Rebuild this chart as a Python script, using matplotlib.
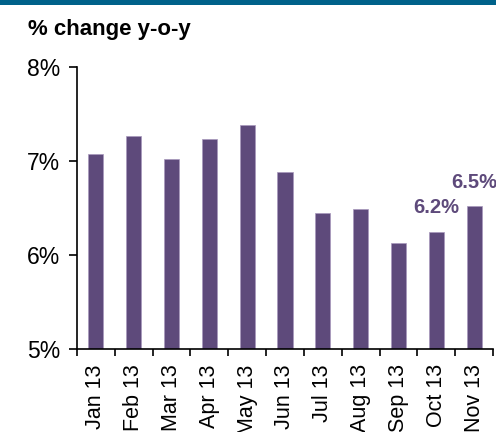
import numpy as np
import matplotlib
matplotlib.use("Agg")
import matplotlib.pyplot as plt
from matplotlib.patches import Rectangle

months = ["Jan 13", "Feb 13", "Mar 13", "Apr 13", "May 13", "Jun 13",
          "Jul 13", "Aug 13", "Sep 13", "Oct 13", "Nov 13"]
values = [7.07, 7.27, 7.02, 7.23, 7.38, 6.88, 6.45, 6.49, 6.13, 6.25, 6.52]
labelled = {9: "6.2%", 10: "6.5%"}

purple = "#5E4A7B"
plt.rcParams['font.family'] = ['Liberation Sans', 'DejaVu Sans']

fig = plt.figure(figsize=(4.96, 4.32), dpi=100)
# blue header strip
fig.patches.append(Rectangle((0, 1 - 5 / 432), 1, 5 / 432, transform=fig.transFigure,
                             facecolor="#00628A", edgecolor="none"))
fig.text(28 / 496, 1 - 30 / 432, "% change y-o-y", fontsize=16, fontweight="bold",
         va="center", ha="left")

ax = fig.add_axes([77 / 496, 1 - 349 / 432, 416 / 496, 282 / 432])
x = np.arange(len(months))
ax.bar(x, values, width=0.4, color=purple, edgecolor="#A898BC", linewidth=0.5)

for i, txt in labelled.items():
    ax.text(x[i], values[i] + 0.15, txt, ha="center", va="bottom", fontsize=14.5,
            fontweight="bold", color=purple)

ax.set_xlim(-0.5, len(months) - 0.5)
ax.set_ylim(5, 8)
ax.set_yticks([5, 6, 7, 8])
ax.set_yticklabels(["5%", "6%", "7%", "8%"], fontsize=16.5)
ax.set_xticks(x)
ax.set_xticklabels(months, rotation=90, fontsize=15.5, va="top")
ax.set_xticks(np.arange(-0.5, len(months)), minor=True)
ax.tick_params(axis="x", which="major", length=0, pad=11)
ax.tick_params(axis="x", which="minor", length=5, width=1.2, direction="out")
ax.tick_params(axis="y", length=6, width=1.2, direction="out", pad=6)

for s in ["top", "right"]:
    ax.spines[s].set_visible(False)
for s in ["left", "bottom"]:
    ax.spines[s].set_linewidth(1.2)

fig.savefig("out.png", dpi=100)
